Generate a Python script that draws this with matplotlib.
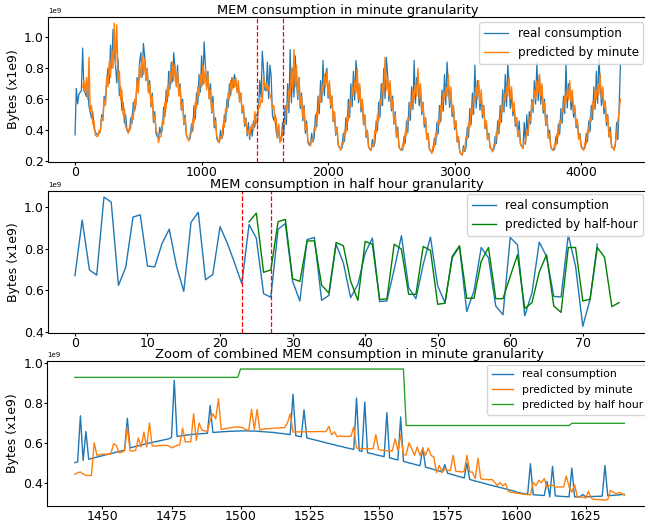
import numpy as np
import matplotlib.pyplot as plt

# Consumo por minuto (lido do gráfico a cada 10 min), em unidades de 1e9 bytes
# uma linha por ciclo (~240 min)
real_min = [
    0.37, 0.67, 0.57, 0.63, 0.645, 0.655, 0.93, 0.655, 0.64, 0.617, 0.70, 0.553, 0.515, 0.477, 0.52, 0.413, 0.39, 0.376,
    0.37, 0.378, 0.397, 0.50, 0.468, 0.62, 0.565, 0.72, 0.80, 0.702, 0.95, 0.80, 1.05, 0.90, 0.82, 0.705, 0.86, 0.623, 0.68, 0.527, 0.58, 0.446, 0.50, 0.397,
    0.39, 0.397, 0.48, 0.444, 0.58, 0.523, 0.57, 0.74, 0.66, 0.84, 0.90, 0.743, 0.96, 0.88, 0.722, 0.80, 0.65, 0.72, 0.55, 0.64, 0.45, 0.52, 0.378, 0.358,
    0.35, 0.42, 0.376, 0.406, 0.55, 0.487, 0.66, 0.583, 0.78, 0.665, 0.84, 0.713, 0.90, 0.80, 0.693, 0.82, 0.625, 0.70, 0.53, 0.60, 0.435, 0.50, 0.366, 0.348,
    0.34, 0.347, 0.44, 0.394, 0.56, 0.473, 0.64, 0.567, 0.76, 0.646, 0.88, 0.693, 0.97, 0.82, 0.673, 0.78, 0.605, 0.70, 0.51, 0.62, 0.415, 0.48, 0.346, 0.328,
    0.32, 0.40, 0.345, 0.374, 0.50, 0.453, 0.60, 0.547, 0.70, 0.626, 0.74, 0.673, 0.76, 0.72, 0.656, 0.70, 0.595, 0.64, 0.51, 0.56, 0.425, 0.48, 0.364, 0.45,
    0.34, 0.42, 0.362, 0.46, 0.42, 0.50, 0.50, 0.535, 0.72, 0.61, 0.91, 0.79, 0.66, 0.654, 0.84, 0.604, 0.82, 0.75, 0.495, 0.466, 0.50, 0.389, 0.35, 0.40,
    0.33, 0.336, 0.45, 0.374, 0.56, 0.437, 0.70, 0.513, 0.92, 0.577, 0.80, 0.614, 0.88, 0.72, 0.598, 0.74, 0.54, 0.64, 0.46, 0.56, 0.38, 0.46, 0.322, 0.306,
    0.30, 0.38, 0.323, 0.35, 0.50, 0.422, 0.62, 0.508, 0.72, 0.581, 0.85, 0.623, 0.76, 0.80, 0.606, 0.70, 0.543, 0.62, 0.455, 0.52, 0.368, 0.42, 0.305, 0.287,
    0.28, 0.286, 0.38, 0.328, 0.48, 0.398, 0.60, 0.482, 0.70, 0.552, 0.78, 0.594, 0.85, 0.74, 0.577, 0.68, 0.518, 0.60, 0.435, 0.50, 0.353, 0.40, 0.293, 0.277,
    0.27, 0.34, 0.294, 0.321, 0.46, 0.396, 0.58, 0.484, 0.70, 0.559, 0.80, 0.603, 0.87, 0.76, 0.586, 0.70, 0.525, 0.62, 0.44, 0.52, 0.355, 0.42, 0.294, 0.277,
    0.27, 0.276, 0.36, 0.317, 0.46, 0.385, 0.58, 0.465, 0.68, 0.534, 0.85, 0.574, 0.74, 0.70, 0.558, 0.66, 0.50, 0.58, 0.42, 0.48, 0.34, 0.38, 0.282, 0.266,
    0.26, 0.266, 0.35, 0.307, 0.45, 0.375, 0.56, 0.455, 0.66, 0.524, 0.76, 0.564, 0.84, 0.70, 0.547, 0.64, 0.488, 0.56, 0.405, 0.46, 0.323, 0.36, 0.263, 0.247,
    0.24, 0.30, 0.262, 0.287, 0.42, 0.355, 0.54, 0.435, 0.64, 0.504, 0.82, 0.544, 0.72, 0.68, 0.53, 0.62, 0.48, 0.56, 0.41, 0.46, 0.34, 0.38, 0.29, 0.276,
    0.27, 0.276, 0.36, 0.314, 0.46, 0.377, 0.56, 0.453, 0.66, 0.517, 0.76, 0.554, 0.83, 0.70, 0.541, 0.64, 0.493, 0.56, 0.425, 0.48, 0.358, 0.46, 0.309, 0.295,
    0.29, 0.45, 0.311, 0.50, 0.365, 0.52, 0.44, 0.60, 0.515, 0.72, 0.569, 0.84, 0.59, 0.76, 0.568, 0.68, 0.51, 0.60, 0.43, 0.50, 0.35, 0.40, 0.292, 0.276,
    0.27, 0.276, 0.36, 0.312, 0.44, 0.374, 0.54, 0.446, 0.62, 0.508, 0.83, 0.544, 0.70, 0.66, 0.531, 0.62, 0.483, 0.54, 0.415, 0.46, 0.348, 0.38, 0.299, 0.285,
    0.28, 0.286, 0.38, 0.325, 0.46, 0.391, 0.56, 0.469, 0.68, 0.535, 0.78, 0.574, 0.86, 0.72, 0.559, 0.66, 0.505, 0.58, 0.43, 0.50, 0.355, 0.42, 0.301, 0.286,
    0.28, 0.30, 0.45, 0.34, 0.55, 0.82,
]
pred_min = [
    0.68, 0.72, 0.64, 0.74, 0.60, 0.87, 0.52, 0.56, 0.44, 0.46, 0.37, 0.36,
    0.36, 0.40, 0.39, 0.48, 0.46, 0.60, 0.56, 0.74, 0.68, 0.84, 0.74, 0.92, 0.80, 1.09, 0.82, 1.08, 0.72, 0.78, 0.60, 0.66, 0.50, 0.54, 0.42, 0.41,
    0.38, 0.42, 0.41, 0.50, 0.47, 0.60, 0.56, 0.72, 0.64, 0.82, 0.74, 0.88, 0.76, 0.86, 0.72, 0.80, 0.64, 0.70, 0.56, 0.62, 0.46, 0.50, 0.40, 0.38,
    0.32, 0.36, 0.36, 0.46, 0.44, 0.58, 0.54, 0.68, 0.62, 0.78, 0.70, 0.84, 0.72, 0.82, 0.68, 0.78, 0.62, 0.68, 0.54, 0.58, 0.44, 0.48, 0.37, 0.35,
    0.33, 0.38, 0.38, 0.47, 0.45, 0.58, 0.54, 0.68, 0.62, 0.76, 0.68, 0.82, 0.70, 0.80, 0.66, 0.76, 0.60, 0.66, 0.52, 0.58, 0.43, 0.46, 0.36, 0.34,
    0.32, 0.36, 0.35, 0.44, 0.42, 0.54, 0.52, 0.64, 0.60, 0.72, 0.66, 0.74, 0.68, 0.74, 0.64, 0.72, 0.58, 0.64, 0.52, 0.56, 0.44, 0.47, 0.38, 0.40,
    0.36, 0.42, 0.44, 0.40, 0.52, 0.46, 0.44, 0.56, 0.55, 0.60, 0.58, 0.75, 0.68, 0.70, 0.655, 0.68, 0.63, 0.60, 0.54, 0.56, 0.45, 0.48, 0.35, 0.44,
    0.32, 0.36, 0.36, 0.46, 0.44, 0.56, 0.54, 0.66, 0.62, 0.80, 0.66, 0.92, 0.68, 0.82, 0.62, 0.74, 0.56, 0.62, 0.48, 0.54, 0.40, 0.44, 0.33, 0.32,
    0.30, 0.34, 0.33, 0.42, 0.40, 0.52, 0.50, 0.62, 0.58, 0.70, 0.64, 0.76, 0.68, 0.78, 0.62, 0.72, 0.56, 0.62, 0.46, 0.52, 0.38, 0.42, 0.31, 0.29,
    0.27, 0.32, 0.31, 0.40, 0.38, 0.49, 0.46, 0.59, 0.55, 0.68, 0.62, 0.72, 0.64, 0.80, 0.60, 0.70, 0.54, 0.60, 0.44, 0.50, 0.36, 0.40, 0.29, 0.28,
    0.27, 0.31, 0.30, 0.40, 0.38, 0.50, 0.46, 0.60, 0.56, 0.70, 0.64, 0.87, 0.66, 0.74, 0.62, 0.72, 0.54, 0.60, 0.44, 0.50, 0.36, 0.40, 0.29, 0.28,
    0.27, 0.31, 0.30, 0.39, 0.37, 0.48, 0.46, 0.58, 0.54, 0.66, 0.60, 0.70, 0.62, 0.80, 0.60, 0.70, 0.52, 0.58, 0.44, 0.48, 0.34, 0.38, 0.28, 0.27,
    0.25, 0.30, 0.29, 0.38, 0.36, 0.47, 0.44, 0.56, 0.52, 0.64, 0.60, 0.68, 0.62, 0.76, 0.58, 0.68, 0.51, 0.56, 0.42, 0.46, 0.33, 0.36, 0.26, 0.25,
    0.24, 0.28, 0.27, 0.36, 0.34, 0.45, 0.42, 0.54, 0.50, 0.62, 0.58, 0.68, 0.60, 0.72, 0.57, 0.66, 0.50, 0.55, 0.42, 0.46, 0.34, 0.37, 0.29, 0.28,
    0.26, 0.31, 0.30, 0.39, 0.37, 0.47, 0.44, 0.56, 0.52, 0.64, 0.58, 0.68, 0.62, 0.74, 0.60, 0.68, 0.52, 0.58, 0.44, 0.48, 0.36, 0.40, 0.31, 0.30,
    0.28, 0.33, 0.32, 0.40, 0.38, 0.48, 0.46, 0.58, 0.54, 0.66, 0.60, 0.72, 0.64, 0.76, 0.62, 0.70, 0.53, 0.58, 0.44, 0.48, 0.35, 0.38, 0.29, 0.28,
    0.27, 0.31, 0.30, 0.38, 0.36, 0.46, 0.44, 0.54, 0.52, 0.62, 0.58, 0.66, 0.60, 0.72, 0.58, 0.66, 0.51, 0.56, 0.43, 0.47, 0.34, 0.37, 0.29, 0.28,
    0.27, 0.32, 0.31, 0.40, 0.38, 0.48, 0.46, 0.58, 0.54, 0.66, 0.60, 0.70, 0.63, 0.76, 0.60, 0.68, 0.54, 0.59, 0.45, 0.49, 0.36, 0.39, 0.29, 0.29,
    0.27, 0.32, 0.36, 0.46, 0.52, 0.60,
]
t_real_min = np.arange(0, 10 * len(real_min), 10)
t_pred_min = np.arange(60, 60 + 10 * len(pred_min), 10)

# Consumo por meia hora
real_half = [
    0.671, 0.938, 0.698, 0.673, 1.048, 1.024, 0.624, 0.711, 0.952, 0.963,
    0.717, 0.713, 0.825, 0.894, 0.716, 0.595, 0.927, 0.975, 0.651, 0.676,
    0.906, 0.827, 0.732, 0.632, 0.916, 0.851, 0.584, 0.567, 0.894, 0.921,
    0.644, 0.549, 0.844, 0.854, 0.552, 0.576, 0.822, 0.732, 0.565, 0.629,
    0.779, 0.851, 0.546, 0.549, 0.700, 0.863, 0.613, 0.560, 0.724, 0.856,
    0.621, 0.541, 0.756, 0.811, 0.498, 0.597, 0.806, 0.756, 0.525, 0.483,
    0.854, 0.819, 0.478, 0.589, 0.832, 0.763, 0.571, 0.568, 0.867, 0.716,
    0.427, 0.557, 0.822,
]
pred_half = [
    0.929, 0.971, 0.687, 0.698, 0.930, 0.941, 0.656, 0.643, 0.837, 0.838,
    0.625, 0.587, 0.830, 0.814, 0.644, 0.552, 0.835, 0.822, 0.556, 0.559,
    0.822, 0.798, 0.581, 0.581, 0.811, 0.792, 0.533, 0.538, 0.763, 0.814,
    0.562, 0.562, 0.740, 0.806, 0.560, 0.560, 0.668, 0.771, 0.513, 0.541,
    0.689, 0.771, 0.525, 0.494, 0.806, 0.806, 0.549, 0.557, 0.806, 0.759,
    0.522, 0.541,
]
t_real_half = np.arange(len(real_half))
t_pred_half = np.arange(24, 24 + len(pred_half))

# Zoom (minutos 1440 a 1639)
real_zoom = [
    0.500, 0.505, 0.736, 0.512, 0.657, 0.518, 0.521, 0.525, 0.528, 0.532,
    0.535, 0.539, 0.542, 0.546, 0.549, 0.553, 0.556, 0.560, 0.563, 0.723,
    0.575, 0.578, 0.582, 0.585, 0.589, 0.592, 0.596, 0.599, 0.602, 0.605,
    0.608, 0.611, 0.614, 0.617, 0.620, 0.627, 0.914, 0.632, 0.634, 0.636,
    0.638, 0.640, 0.641, 0.643, 0.644, 0.645, 0.646, 0.647, 0.648, 0.788,
    0.652, 0.653, 0.654, 0.655, 0.656, 0.657, 0.658, 0.658, 0.659, 0.659,
    0.660, 0.660, 0.660, 0.660, 0.659, 0.659, 0.658, 0.657, 0.656, 0.655,
    0.654, 0.653, 0.652, 0.650, 0.648, 0.647, 0.645, 0.643, 0.641, 0.844,
    0.636, 0.633, 0.630, 0.766, 0.625, 0.621, 0.618, 0.614, 0.611, 0.607,
    0.604, 0.600, 0.597, 0.593, 0.590, 0.586, 0.583, 0.580, 0.576, 0.573,
    0.570, 0.566, 0.825, 0.560, 0.557, 0.805, 0.550, 0.547, 0.544, 0.540,
    0.537, 0.534, 0.530, 0.751, 0.524, 0.521, 0.517, 0.514, 0.730, 0.507,
    0.503, 0.499, 0.496, 0.492, 0.488, 0.485, 0.575, 0.478, 0.474, 0.470,
    0.466, 0.462, 0.458, 0.454, 0.490, 0.447, 0.443, 0.439, 0.435, 0.431,
    0.427, 0.423, 0.498, 0.416, 0.412, 0.408, 0.404, 0.401, 0.397, 0.393,
    0.389, 0.386, 0.382, 0.379, 0.375, 0.372, 0.368, 0.365, 0.361, 0.358,
    0.352, 0.349, 0.346, 0.344, 0.342, 0.495, 0.339, 0.338, 0.337, 0.336,
    0.335, 0.406, 0.328, 0.481, 0.333, 0.332, 0.331, 0.330, 0.329, 0.329,
    0.473, 0.328, 0.328, 0.330, 0.340, 0.329, 0.329, 0.330, 0.330, 0.331,
    0.331, 0.332, 0.486, 0.334, 0.335, 0.336, 0.337, 0.338, 0.340, 0.341,
]
pred_zoom = [
    0.441, 0.450, 0.453, 0.443, 0.436, 0.436, 0.436, 0.600, 0.537, 0.540,
    0.543, 0.543, 0.543, 0.543, 0.595, 0.587, 0.550, 0.553, 0.560, 0.679,
    0.559, 0.559, 0.562, 0.624, 0.579, 0.654, 0.579, 0.700, 0.584, 0.584,
    0.585, 0.586, 0.587, 0.588, 0.585, 0.575, 0.580, 0.587, 0.590, 0.674,
    0.604, 0.605, 0.606, 0.746, 0.612, 0.700, 0.663, 0.660, 0.657, 0.713,
    0.746, 0.720, 0.822, 0.667, 0.670, 0.672, 0.675, 0.677, 0.679, 0.680,
    0.679, 0.675, 0.665, 0.665, 0.768, 0.667, 0.768, 0.663, 0.668, 0.670,
    0.671, 0.672, 0.673, 0.674, 0.675, 0.676, 0.677, 0.700, 0.746, 0.654,
    0.655, 0.655, 0.655, 0.655, 0.656, 0.656, 0.656, 0.656, 0.657, 0.657,
    0.656, 0.657, 0.683, 0.640, 0.655, 0.630, 0.635, 0.632, 0.632, 0.632,
    0.633, 0.679, 0.574, 0.572, 0.570, 0.570, 0.570, 0.570, 0.570, 0.641,
    0.567, 0.562, 0.562, 0.560, 0.560, 0.560, 0.621, 0.562, 0.640, 0.540,
    0.540, 0.600, 0.570, 0.537, 0.579, 0.537, 0.570, 0.537, 0.574, 0.537,
    0.528, 0.450, 0.487, 0.450, 0.470, 0.461, 0.461, 0.537, 0.456, 0.456,
    0.453, 0.456, 0.537, 0.453, 0.453, 0.420, 0.523, 0.420, 0.416, 0.416,
    0.414, 0.416, 0.402, 0.386, 0.400, 0.383, 0.395, 0.356, 0.352, 0.349,
    0.347, 0.345, 0.342, 0.342, 0.339, 0.339, 0.400, 0.385, 0.411, 0.400,
    0.420, 0.378, 0.386, 0.386, 0.378, 0.378, 0.378, 0.378, 0.433, 0.378,
    0.352, 0.390, 0.327, 0.327, 0.327, 0.322, 0.356, 0.322, 0.315, 0.315,
    0.314, 0.314, 0.312, 0.315, 0.360, 0.352, 0.344, 0.349, 0.346, 0.336,
]
t_zoom = np.arange(1440, 1440 + len(real_zoom))
# cada ponto de meia hora cobre 60 amostras no zoom
half_zoom = np.repeat(pred_half[0:4], 60)[:len(t_zoom)]

# Janela destacada
mark_min = [1440, 1640]
mark_half = [23, 27]

GB = 1e9
fs = 9

fig = plt.figure(figsize=(6.45, 5.24), dpi=100)

# Gráfico 1: granularidade de minuto
ax1 = fig.add_axes([0.074, 0.6914, 0.932, 0.276])
ax1.plot(t_real_min, np.array(real_min) * GB, color="C0", lw=0.9, label="real consumption")
ax1.plot(t_pred_min, np.array(pred_min) * GB, color="C1", lw=1.0, label="predicted by minute")
for m in mark_min:
    ax1.axvline(m, color="red", linestyle="--", lw=0.9)
ax1.set_xlim(-216, 4535)
ax1.set_ylim(0.197 * GB, 1.13 * GB)
ax1.set_yticks(np.arange(0.2, 1.01, 0.2) * GB)
ax1.set_xticks([0, 1000, 2000, 3000, 4000])
ax1.set_title("MEM consumption in minute granularity", fontsize=9.4, pad=1.5)
ax1.legend(loc="upper right", fontsize=8.6, borderaxespad=0.45)

# Gráfico 2: granularidade de meia hora
ax2 = fig.add_axes([0.074, 0.3645, 0.928, 0.2716])
ax2.plot(t_real_half, np.array(real_half) * GB, color="C0", lw=1.0, label="real consumption")
ax2.plot(t_pred_half, np.array(pred_half) * GB, color="green", lw=1.0, label="predicted by half-hour")
for m in mark_half:
    ax2.axvline(m, color="red", linestyle="--", lw=0.9)
ax2.set_xlim(-3.75, 78.75)
ax2.set_ylim(0.395 * GB, 1.079 * GB)
ax2.set_yticks(np.arange(0.4, 1.01, 0.2) * GB)
ax2.set_title("MEM consumption in half hour granularity", fontsize=9.4, pad=1.5)
ax2.legend(loc="upper right", fontsize=8.6, borderaxespad=0.3)

# Gráfico 3: zoom combinado
ax3 = fig.add_axes([0.0735, 0.035, 0.937, 0.2767])
ax3.plot(t_zoom, np.array(real_zoom) * GB, color="C0", lw=1.0, label="real consumption")
ax3.plot(t_zoom, np.array(pred_zoom) * GB, color="C1", lw=1.0, label="predicted by minute")
ax3.plot(t_zoom, half_zoom * GB, color="C2", lw=1.0, label="predicted by half hour")
ax3.set_xlim(1430.05, 1648.95)
ax3.set_ylim(0.284 * GB, 1.013 * GB)
ax3.set_yticks(np.arange(0.4, 1.01, 0.2) * GB)
ax3.set_xticks(np.arange(1450, 1626, 25))
ax3.set_title("Zoom of combined MEM consumption in minute granularity", fontsize=9.4, pad=1.5)
ax3.legend(loc="upper right", fontsize=7.8, borderaxespad=0.4)

for ax in (ax1, ax2, ax3):
    ax.set_ylabel("Bytes (x1e9)", fontsize=fs, labelpad=3)
    ax.tick_params(labelsize=fs, length=2.4, pad=0.5)
    ax.yaxis.get_offset_text().set_fontsize(5)

fig.savefig("out.png", dpi=100)
